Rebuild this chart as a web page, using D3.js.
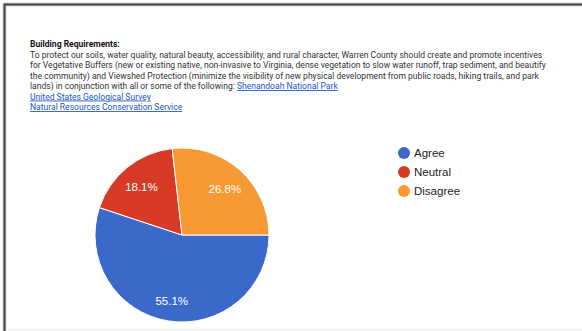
<!DOCTYPE html>
<html>
<head>
<meta charset="utf-8">
<script src="https://cdn.jsdelivr.net/npm/d3@7"></script>
<style>
  html, body { margin: 0; padding: 0; background: #fff; }
  svg { display: block; }
</style>
</head>
<body>
<svg id="chart" width="582" height="331"></svg>
<script>
// Survey responses
const categories = ["Agree", "Neutral", "Disagree"];
const shares = [55.1, 18.1, 26.8];
const colors = ["#3a69c9", "#d83a28", "#f89934"];

const titleText = "Building Requirements:";
const bodyLines = [
  "To protect our soils, water quality, natural beauty, accessibility, and rural character, Warren County should create and promote incentives",
  "for Vegetative Buffers (new or existing native, non-invasive to Virginia, dense vegetation to slow water runoff, trap sediment, and beautify",
  "the community) and Viewshed Protection (minimize the visibility of new physical development from public roads, hiking trails, and park",
  "lands) in conjunction with all or some of the following: "
];
const inlineLink = "Shenandoah National Park";
const linkLines = ["United States Geological Survey", "Natural Resources Conservation Service"];

const svg = d3.select("#chart");
const W = 582, H = 331;

// page frame
svg.append("rect").attr("x", 0).attr("y", 0).attr("width", W).attr("height", H).attr("fill", "#fff");
svg.append("line").attr("x1", 3).attr("x2", W).attr("y1", 4.5).attr("y2", 4.5).attr("stroke", "#ccc").attr("stroke-width", 4);
svg.append("line").attr("x1", 4.5).attr("x2", 4.5).attr("y1", 3).attr("y2", H).attr("stroke", "#ccc").attr("stroke-width", 4);
svg.append("line").attr("x1", 4).attr("x2", W).attr("y1", 4.5).attr("y2", 4.5).attr("stroke", "#444").attr("stroke-width", 2);
svg.append("line").attr("x1", 4.5).attr("x2", 4.5).attr("y1", 4).attr("y2", H).attr("stroke", "#444").attr("stroke-width", 2);
svg.append("line").attr("x1", 6).attr("x2", W).attr("y1", 329.5).attr("y2", 329.5).attr("stroke", "#eee").attr("stroke-width", 1);

// description text
const textX = 30;
const lineH = 10.5;
const firstY = 47;
const txt = svg.append("g").attr("font-family", "Roboto, 'Liberation Sans', Arial, sans-serif").attr("font-size", 8.55);

txt.append("text").attr("x", textX).attr("y", firstY).attr("font-weight", "bold").attr("fill", "#111").text(titleText);

bodyLines.forEach((s, i) => {
  const t = txt.append("text").attr("x", textX).attr("y", firstY + lineH * (i + 1)).attr("fill", "#333");
  t.append("tspan").text(s);
  if (i === bodyLines.length - 1) {
    t.append("tspan").attr("fill", "#1a55cc").attr("text-decoration", "underline").text(inlineLink);
  }
});
linkLines.forEach((s, i) => {
  txt.append("text").attr("x", textX).attr("y", firstY + lineH * (bodyLines.length + 1 + i))
    .attr("fill", "#1a55cc").attr("text-decoration", "underline").text(s);
});

// pie, starting at 3 o'clock and running clockwise
const cx = 182, cy = 235, r = 87;
const pie = d3.pie().sort(null).value(d => d)
  .startAngle(Math.PI / 2).endAngle(Math.PI / 2 + 2 * Math.PI);
const arcs = pie(shares);
const arc = d3.arc().innerRadius(0).outerRadius(r);
const labelArc = d3.arc().innerRadius(r * 0.74).outerRadius(r * 0.74);

const g = svg.append("g").attr("transform", `translate(${cx},${cy})`);
g.selectAll("path").data(arcs).join("path")
  .attr("d", arc)
  .attr("fill", (d, i) => colors[i])
  .attr("stroke", "#fff").attr("stroke-width", 1);

g.selectAll("text").data(arcs).join("text")
  .attr("transform", d => `translate(${labelArc.centroid(d)})`)
  .attr("text-anchor", "middle").attr("dy", "0.55em")
  .attr("font-family", "'Liberation Sans', Arial, sans-serif").attr("font-size", 11.5)
  .attr("fill", "#fff")
  .text(d => d.data.toFixed(1) + "%");

// legend
const legend = svg.append("g").attr("transform", "translate(404,153)");
categories.forEach((c, i) => {
  const y = i * 19;
  legend.append("circle").attr("cx", 0).attr("cy", y).attr("r", 6).attr("fill", colors[i]);
  legend.append("text").attr("x", 10).attr("y", y).attr("dy", "0.36em")
    .attr("font-family", "'Liberation Sans', Arial, sans-serif").attr("font-size", 11.5)
    .attr("fill", "#222").text(c);
});
</script>
</body>
</html>
